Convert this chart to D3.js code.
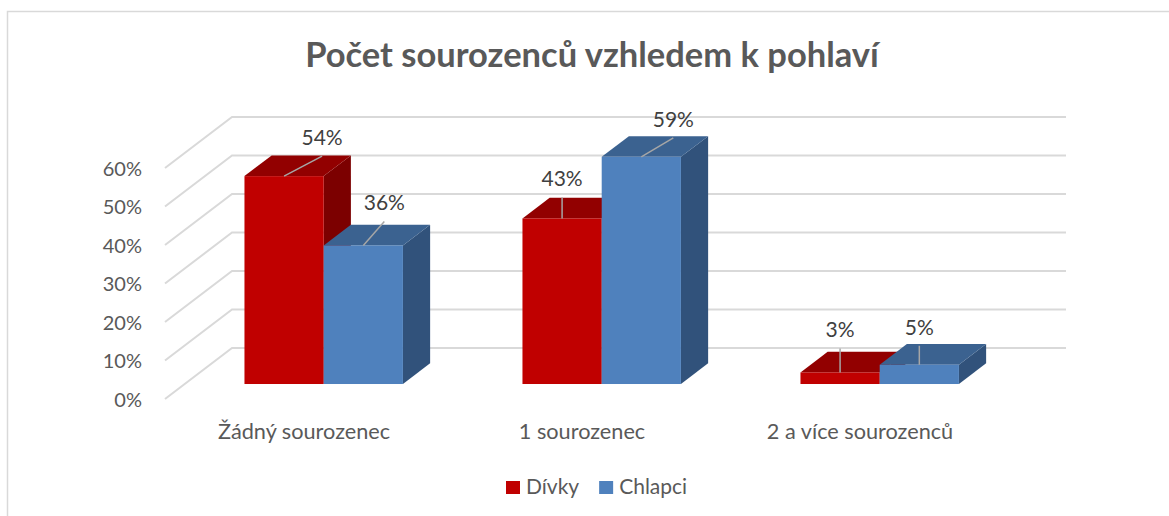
<!DOCTYPE html>
<html>
<head>
<meta charset="utf-8">
<script src="https://cdn.jsdelivr.net/npm/d3@7"></script>
<style>
  html, body { margin: 0; padding: 0; background: #fff; }
  svg { display: block; font-family: Lato, "Open Sans", sans-serif; }
</style>
</head>
<body>
<svg id="chart" width="1169" height="516"></svg>
<script>
// Values
const categories = ['Žádný sourozenec', '1 sourozenec', '2 a více sourozenců'];
const seriesNames = ['Dívky', 'Chlapci'];
const divky = [0.54, 0.43, 0.03];
const chlapci = [0.36, 0.59, 0.05];
const yTicks = [0, 0.1, 0.2, 0.3, 0.4, 0.5, 0.6];
const title = 'Počet sourozenců vzhledem k pohlaví';

// manual data label placement (leader end offset from the bar's front-top centre)
const labelOffsets = [
    [[38, -20], [21, -24]],
    [[0, -21], [32, -19]],
    [[0, -24], [0, -19]]
];

const colors = {
    'Dívky': { front: '#c00000', top: '#920000', side: '#7c0000' },
    'Chlapci': { front: '#4f81bd', top: '#3b6290', side: '#31527b' }
};

const width = 1169, height = 516;
const plotLeft = 165;      // front edge of the left wall
const plotWidth = 834;
const depthX = 67, depthY = 51;   // full depth offset of the walls
const zFront = 0.294, zBack = 0.70;  // bar depth within the floor

const svg = d3.select('#chart');

// chart frame
svg.append('path')
    .attr('d', `M7.5,${height} L7.5,11.5 L${width},11.5`)
    .attr('fill', 'none')
    .attr('stroke', '#d9d9d9')
    .attr('stroke-width', 1.5);

svg.append('text')
    .attr('x', 592)
    .attr('y', 67)
    .attr('text-anchor', 'middle')
    .attr('font-size', 34.5)
    .attr('font-weight', 700)
    .attr('fill', '#595959')
    .text(title);

const y = d3.scaleLinear()
    .domain([0, 0.6])
    .range([399, 168]);

const x0 = d3.scaleBand()
    .domain(categories)
    .range([plotLeft, plotLeft + plotWidth])
    .paddingInner(0.43)
    .paddingOuter(0.215);

const x1 = d3.scaleBand()
    .domain(seriesNames)
    .range([0, x0.bandwidth()]);

// project a point (screen x at the front, value, depth 0..1)
const px = (sx, z) => sx + depthX * z;
const py = (v, z) => y(v) - depthY * z;

// gridlines: left wall diagonals + back wall
const grid = svg.append('g').attr('class', 'grid');
yTicks.forEach(t => {
    grid.append('path')
        .attr('d', `M${px(plotLeft, 0)},${py(t, 0)} L${px(plotLeft, 1)},${py(t, 1)} L${px(plotLeft + plotWidth, 1)},${py(t, 1)}`)
        .attr('fill', 'none')
        .attr('stroke', '#d9d9d9')
        .attr('stroke-width', 2);
});

// y axis labels
const yAxis = svg.append('g')
    .attr('transform', `translate(${plotLeft},0)`)
    .call(d3.axisLeft(y).tickValues(yTicks).tickFormat(d3.format('.0%')).tickSize(0).tickPadding(23));
yAxis.select('.domain').remove();
yAxis.selectAll('text')
    .attr('font-family', 'Lato, sans-serif')
    .attr('font-size', 20)
    .attr('fill', '#595959')
    .attr('dy', '0.36em');

// category labels
const xAxis = svg.append('g')
    .attr('transform', 'translate(0,399)')
    .call(d3.axisBottom(x0).tickSize(0).tickPadding(25));
xAxis.select('.domain').remove();
xAxis.selectAll('text')
    .attr('font-family', 'Lato, sans-serif')
    .attr('font-size', 21.7)
    .attr('fill', '#595959');

// bars
const bars = [];
categories.forEach((c, i) => {
    [divky, chlapci].forEach((vals, s) => {
        bars.push({ cat: c, ci: i, series: seriesNames[s], si: s, value: vals[i] });
    });
});

const barG = svg.append('g').attr('class', 'bars');
bars.forEach(b => {
    const left = x0(b.cat) + x1(b.series);
    const right = left + x1.bandwidth();
    const col = colors[b.series];
    const g = barG.append('g');
    // right side
    g.append('path')
        .attr('d', `M${px(right, zFront)},${py(b.value, zFront)} L${px(right, zBack)},${py(b.value, zBack)} L${px(right, zBack)},${py(0, zBack)} L${px(right, zFront)},${py(0, zFront)}Z`)
        .attr('fill', col.side);
    // top
    g.append('path')
        .attr('d', `M${px(left, zFront)},${py(b.value, zFront)} L${px(left, zBack)},${py(b.value, zBack)} L${px(right, zBack)},${py(b.value, zBack)} L${px(right, zFront)},${py(b.value, zFront)}Z`)
        .attr('fill', col.top);
    // front
    g.append('rect')
        .attr('x', px(left, zFront))
        .attr('y', py(b.value, zFront))
        .attr('width', right - left)
        .attr('height', py(0, zFront) - py(b.value, zFront))
        .attr('fill', col.front);
});

// data labels with leader lines
const labelG = svg.append('g').attr('class', 'labels');
bars.forEach(b => {
    const cx = px(x0(b.cat) + x1(b.series) + x1.bandwidth() / 2, zFront);
    const cy = py(b.value, zFront);
    const [dx, dy] = labelOffsets[b.ci][b.si];
    labelG.append('line')
        .attr('x1', cx).attr('y1', cy)
        .attr('x2', cx + dx).attr('y2', cy + dy)
        .attr('stroke', '#a6a6a6')
        .attr('stroke-width', 1.5);
    labelG.append('text')
        .attr('x', cx + dx)
        .attr('y', cy + dy - 11)
        .attr('text-anchor', 'middle')
        .attr('font-size', 21)
        .attr('fill', '#404040')
        .text(d3.format('.0%')(b.value));
});

// legend
const legend = svg.append('g').attr('transform', 'translate(506,481)');
let lx = 0;
seriesNames.forEach(name => {
    const item = legend.append('g').attr('transform', `translate(${lx},0)`);
    item.append('rect')
        .attr('width', 14).attr('height', 13)
        .attr('fill', colors[name].front);
    const t = item.append('text')
        .attr('x', 20)
        .attr('y', 13)
        .attr('font-size', 21)
        .attr('fill', '#595959')
        .text(name);
    lx += 20 + t.node().getComputedTextLength() + 20;
});
</script>
</body>
</html>
